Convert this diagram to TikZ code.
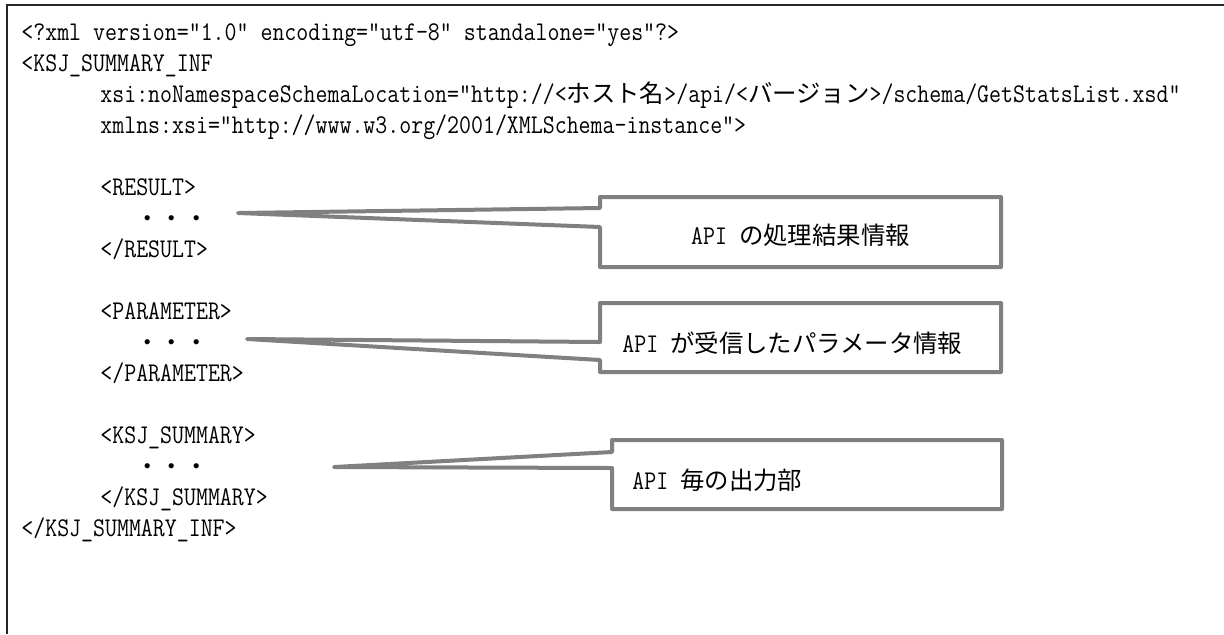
\documentclass[tikz,border=0pt]{standalone}
\usepackage{fontspec}
\newfontfamily\jpfont{Noto Sans CJK JP}
\newfontfamily\codefont{Latin Modern Mono}[FakeStretch=0.86]
\usetikzlibrary{calc}

\newcommand{\jtext}[1]{{\jpfont\fontsize{12.2}{14}\selectfont #1}}

\begin{document}
\begin{tikzpicture}[x=0.5pt, y=-0.5pt,
    code/.style={anchor=base west, inner sep=0pt, font=\codefont\fontsize{13.5}{16}\selectfont},
    dots/.style={anchor=base west, inner sep=0pt, font=\jpfont\fontsize{12.2}{14}\selectfont},
    notebox/.style={rectangle, inner sep=0pt, outer sep=0pt},
    notetext/.style={inner sep=0pt, font=\codefont\fontsize{13.5}{16}\selectfont},
    callout/.style={draw=gray, line width=2pt, line join=round}]
  \useasboundingbox (0,0) rectangle (1224,634);
  \draw[black!85, line width=0.8pt] (7,634) -- (7,5) -- (1224,5);

  % xml listing
  \node[code] (decl) at (21,40) {<?xml version="1.0" encoding="utf-8" standalone="yes"?>};
  \node[code] (root) at (21,71) {<KSJ\_SUMMARY\_INF};
  \node[code] (schema) at (100,102) {xsi:noNamespaceSchemaLocation="http://<\jtext{ホスト名}>/api/<\jtext{バージョン}>/schema/GetStatsList.xsd"};
  \node[code] (xmlns) at (100,133) {xmlns:xsi="http://www.w3.org/2001/XMLSchema-instance">};

  \node[code] (res) at (100,195) {<RESULT>};
  \node[dots] (resdots) at (135,227) {・・・};
  \node[code] (resend) at (100,257) {</RESULT>};

  \node[code] (par) at (100,319) {<PARAMETER>};
  \node[dots] (pardots) at (135,351) {・・・};
  \node[code] (parend) at (100,381) {</PARAMETER>};

  \node[code] (sum) at (100,443) {<KSJ\_SUMMARY>};
  \node[dots] (sumdots) at (135,475) {・・・};
  \node[code] (sumend) at (100,505) {</KSJ\_SUMMARY>};
  \node[code] (rootend) at (21,536) {</KSJ\_SUMMARY\_INF>};

  % callouts
  \node[notebox, minimum width=200.5pt, minimum height=35pt] (resbox) at (800.5,232) {};
  \node[notetext] (restext) at ($(resbox.center)+(0,3)$) {API \jtext{の処理結果情報}};
  \coordinate (restip) at (238,213);
  \draw[callout] (resbox.north west) -- (resbox.north east) -- (resbox.south east)
    -- (resbox.south west) -- ($(resbox.north west)+(0,30)$) -- (restip)
    -- ($(resbox.north west)+(0,11)$) -- cycle;

  \node[notebox, minimum width=200.5pt, minimum height=34.5pt] (parbox) at (800.5,337.5) {};
  \node[notetext, anchor=west] (partext) at ($(parbox.west)+(22,5.5)$) {API \jtext{が受信したパラメータ情報}};
  \coordinate (partip) at (247,339);
  \draw[callout] (parbox.north west) -- (parbox.north east) -- (parbox.south east)
    -- (parbox.south west) -- ($(parbox.north west)+(0,57)$) -- (partip)
    -- ($(parbox.north west)+(0,39)$) -- cycle;

  \node[notebox, minimum width=195pt, minimum height=34.5pt] (sumbox) at (807,474.5) {};
  \node[notetext, anchor=west] (sumtext) at ($(sumbox.west)+(20,5.5)$) {API \jtext{毎の出力部}};
  \coordinate (sumtip) at (334,467);
  \draw[callout] (sumbox.north west) -- (sumbox.north east) -- (sumbox.south east)
    -- (sumbox.south west) -- ($(sumbox.north west)+(0,28)$) -- (sumtip)
    -- ($(sumbox.north west)+(0,12)$) -- cycle;
\end{tikzpicture}
\end{document}
